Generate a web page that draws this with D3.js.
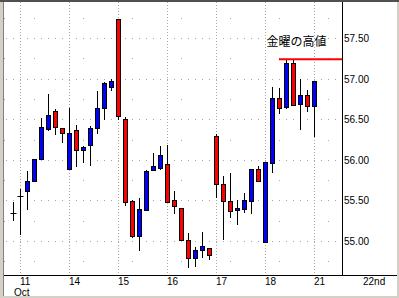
<!DOCTYPE html>
<html><head><meta charset="utf-8">
<script src="https://cdn.jsdelivr.net/npm/d3@7"></script>
<style>html,body{margin:0;padding:0;background:#fff;}svg{display:block;}</style>
</head><body>
<script>
// candle data (one candle per period, 7 per day)
const openV  = [55.345,55.559,55.620,55.744,56.020,56.390,56.612,56.402,55.891,56.377,56.131,56.184,56.397,56.644,56.903,57.746,56.504,55.493,55.065,55.382,55.884,55.909,55.949,55.506,55.416,55.021,54.799,54.901,54.914,56.295,55.703,55.497,55.391,55.403,55.502,55.896,55.000,55.970,56.772,56.661,57.199,56.698,56.809,56.673];
const closeV = [55.345,55.559,55.748,56.020,56.414,56.562,56.409,56.340,56.340,56.131,56.168,56.402,56.649,56.957,56.982,56.545,55.485,55.065,55.395,55.863,55.925,56.060,55.490,55.440,55.021,54.794,54.901,54.947,54.836,55.703,55.502,55.379,55.416,55.514,55.896,55.748,55.974,56.772,56.649,57.199,56.686,56.809,56.673,56.982];
const highV  = [55.481,55.645,55.872,56.020,56.517,56.821,56.636,56.402,56.649,56.439,56.175,56.422,56.850,56.960,56.998,57.746,56.533,55.510,55.530,55.880,56.085,56.171,56.184,55.625,55.416,55.099,54.938,55.115,54.926,56.328,55.801,55.847,55.506,55.600,55.896,55.925,55.974,56.903,56.895,57.240,57.232,56.998,56.871,56.982];
const lowV   = [55.247,55.086,55.382,55.744,56.020,56.360,56.316,56.212,55.891,55.916,55.965,55.928,56.323,56.496,56.853,56.496,55.435,55.046,54.885,55.382,55.863,55.875,55.490,55.333,55.021,54.671,54.692,54.799,54.769,55.534,55.016,55.287,55.206,55.354,55.342,55.748,55.000,55.842,56.575,56.631,56.686,56.372,56.594,56.286];
// x axis: day labels and the candle index where each day starts
const dayLabels = ["11","14","15","16","17","18","21","22nd"];
const dayIndex  = [1,8,15,22,29,36,43,50];
const monthLabel = "Oct";
// y axis
const yTicks = [55.00,55.50,56.00,56.50,57.00,57.50];
const yMinor = [54.75,55.25,55.75,56.25,56.75,57.25,57.75];
const fridayHigh = 57.25;
const noteText = "金曜の高値";

const W = 399, H = 298;
const plotL = 3, plotR = 342, plotT = 2, plotB = 275;
const svg = d3.select("body").append("svg").attr("width", W).attr("height", H);
svg.append("rect").attr("width", W).attr("height", H).attr("fill", "#fff");

const x = d3.scaleLinear().domain([0, 1]).range([13.5, 20.5]);
const y = d3.scaleLinear().domain([55, 57.5]).range([241.5, 38.5]);
const font = "'Liberation Sans', Arial, sans-serif";
const grid = "#a8a8a8";

// vertical dotted gridlines
svg.append("g").selectAll("line").data(dayIndex.filter(d => x(d) < plotR)).join("line")
  .attr("x1", d => x(d)).attr("x2", d => x(d)).attr("y1", plotT).attr("y2", plotB)
  .attr("stroke", grid).attr("stroke-width", 1).attr("stroke-dasharray", "1,2");

// horizontal major dotted rows (dots at candle positions)
const kAll = d3.range(-1, 48).filter(k => x(k) > plotL + 1 && x(k) < plotR);
const gMaj = svg.append("g");
yTicks.forEach(t => {
  gMaj.selectAll(null).data(kAll).join("rect")
    .attr("x", k => x(k) - 0.5).attr("y", Math.floor(y(t))).attr("width", 1).attr("height", 1).attr("fill", grid);
});
// minor rows: sparse dots
const kMinor = d3.range(-1, 48).filter(k => ((k % 7) + 7) % 7 === 3 && x(k) < plotR);
yMinor.forEach(t => {
  const yy = Math.floor(y(t));
  gMaj.selectAll(null).data(kMinor).join("rect")
    .attr("x", k => x(k) - 0.5).attr("y", yy).attr("width", 1).attr("height", 1).attr("fill", grid);
  gMaj.append("rect").attr("x", 4).attr("y", yy).attr("width", 1).attr("height", 1).attr("fill", grid);
});

// candles
const data = openV.map((o, i) => ({i, o, c: closeV[i], h: highV[i], l: lowV[i]}));
const gC = svg.append("g");
gC.selectAll("line").data(data).join("line")
  .attr("x1", d => x(d.i)).attr("x2", d => x(d.i))
  .attr("y1", d => Math.round(y(d.h))).attr("y2", d => Math.round(y(d.l)))
  .attr("stroke", "#000").attr("stroke-width", 1);
gC.selectAll("rect").data(data).join("rect")
  .attr("x", d => x(d.i) - 2)
  .attr("y", d => Math.round(y(Math.max(d.o, d.c))) + 0.5)
  .attr("width", 4)
  .attr("height", d => Math.max(0, Math.round(y(Math.min(d.o, d.c))) - Math.round(y(Math.max(d.o, d.c)))))
  .attr("fill", d => d.c > d.o ? "#0000ff" : (d.c < d.o ? "#ff0000" : "#000"))
  .attr("stroke", "#000").attr("stroke-width", 1);
// doji: horizontal tick
gC.selectAll("line.doji").data(data.filter(d => d.o === d.c)).join("line").attr("class", "doji")
  .attr("x1", d => x(d.i) - 3).attr("x2", d => x(d.i) + 3)
  .attr("y1", d => Math.round(y(d.o)) + 0.5).attr("y2", d => Math.round(y(d.o)) + 0.5)
  .attr("stroke", "#000").attr("stroke-width", 1);

// friday high line + note
svg.append("line").attr("x1", 279).attr("x2", plotR).attr("y1", y(fridayHigh) + 0.5).attr("y2", y(fridayHigh) + 0.5)
  .attr("stroke", "#ff0000").attr("stroke-width", 2);
svg.append("text").attr("x", 266.5).attr("y", 46).attr("font-family", "'Noto Sans CJK JP', sans-serif")
  .attr("font-size", 12).attr("fill", "#000").text(noteText);

// axes lines
svg.append("line").attr("x1", plotR + 0.5).attr("x2", plotR + 0.5).attr("y1", plotT).attr("y2", plotB)
  .attr("stroke", "#000");
svg.append("line").attr("x1", plotL).attr("x2", W - 2).attr("y1", plotB + 0.5).attr("y2", plotB + 0.5)
  .attr("stroke", "#000");

// y labels
svg.append("g").selectAll("text").data(yTicks).join("text")
  .attr("x", 344).attr("y", d => y(d) + 3.5)
  .attr("font-family", font).attr("font-size", 10).attr("fill", "#000")
  .text(d => d.toFixed(2));
// x labels
svg.append("g").selectAll("text").data(dayLabels).join("text")
  .attr("x", (d, i) => x(dayIndex[i]) - 0.5).attr("y", 284.8)
  .attr("font-family", font).attr("font-size", 10).attr("fill", "#000")
  .text(d => d);
svg.append("text").attr("x", 14).attr("y", 296.2).attr("font-family", font).attr("font-size", 10)
  .attr("fill", "#000").text(monthLabel);

// window frame
svg.append("rect").attr("x", 0).attr("y", 0).attr("width", 3).attr("height", H).attr("fill", "#d4d0c8");
svg.append("rect").attr("x", 3).attr("y", 2).attr("width", 1).attr("height", H).attr("fill", "#808080");
svg.append("rect").attr("x", 0).attr("y", 0).attr("width", W).attr("height", 2).attr("fill", "#505050");
svg.append("rect").attr("x", W - 2).attr("y", 2).attr("width", 2).attr("height", H).attr("fill", "#d4d0c8");
svg.append("rect").attr("x", 0).attr("y", H - 2).attr("width", W).attr("height", 2).attr("fill", "#d4d0c8");
</script>
</body></html>
